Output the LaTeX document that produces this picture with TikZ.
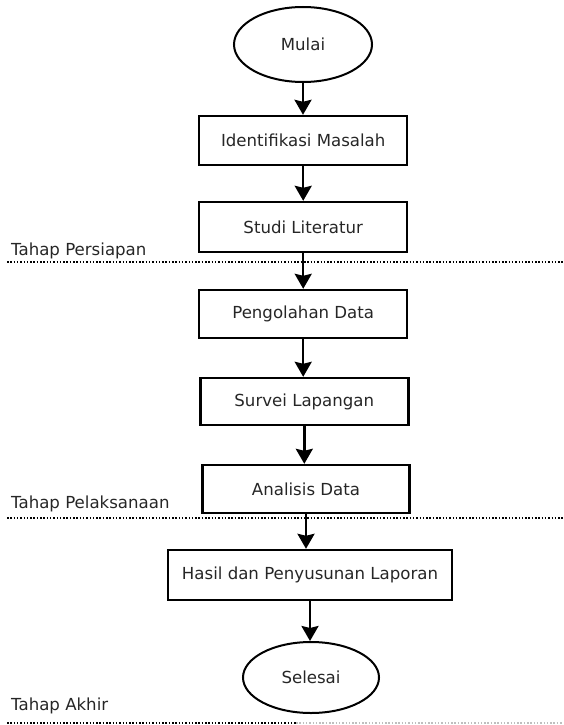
\documentclass[tikz,border=0pt]{standalone}
\usepackage{fontspec}
\setmainfont{DejaVu Sans}
\usetikzlibrary{shapes.geometric,arrows.meta}

\begin{document}
\begin{tikzpicture}[x=1pt,y=-1pt,
  teks/.style={font=\fontsize{16.6}{19}\selectfont, text=black!85},
  langkah/.style={rectangle, draw, line width=2.4pt, minimum width=208pt, minimum height=49pt, inner sep=0pt, teks},
  terminal/.style={ellipse, draw, line width=2pt, minimum width=138pt, minimum height=75pt, inner sep=0pt, teks},
  alur/.style={-{Stealth[length=15pt,width=17pt,inset=2pt]}, line width=2.4pt},
  tahap/.style={anchor=base west, inner sep=0pt, teks},
  batas/.style={line width=2.2pt, dash pattern=on 1.5pt off 1.8pt}]
\useasboundingbox (0,0) rectangle (563,725);

% tahap persiapan
\node[terminal] (mulai) at (303,44.5) {Mulai};
\node[langkah] (identifikasi) at (303.2,140.5) {Identifikasi Masalah};
\node[langkah, minimum height=50pt] (studi) at (303.2,227) {Studi Literatur};
\node[tahap] (persiapan) at (11,255) {Tahap Persiapan};
\draw[batas] (7,262) -- (563,262);

% tahap pelaksanaan
\node[langkah, minimum height=48pt] (pengolahan) at (303.2,314) {Pengolahan Data};
\node[langkah, minimum height=47pt] (survei) at (304.3,401.5) {Survei Lapangan};
\node[langkah, minimum height=48pt, minimum width=207pt] (analisis) at (306,489) {Analisis Data};
\node[tahap] (pelaksanaan) at (11,508) {Tahap Pelaksanaan};
\draw[batas] (7,518) -- (563,518);

% tahap akhir
\node[langkah, minimum width=284pt, minimum height=50pt] (hasil) at (310,575) {Hasil dan Penyusunan Laporan};
\node[terminal, minimum width=136pt, minimum height=71pt] (selesai) at (311,677.5) {Selesai};
\node[tahap] (akhir) at (11,710) {Tahap Akhir};
\draw[batas] (7,723) -- (296,723);
\draw[batas, black!25, line width=1.4pt] (296,723) -- (563,723);

\draw[alur] (mulai.south) -- (mulai.south |- identifikasi.north);
\draw[alur] (identifikasi.south) -- (identifikasi.south |- studi.north);
\draw[alur] (studi.south) -- (studi.south |- pengolahan.north);
\draw[alur] (pengolahan.south) -- (pengolahan.south |- survei.north);
\draw[alur] (survei.south) -- (survei.south |- analisis.north);
\draw[alur] (analisis.south) -- (analisis.south |- hasil.north);
\draw[alur] (hasil.south) -- (hasil.south |- selesai.north);
\end{tikzpicture}
\end{document}
